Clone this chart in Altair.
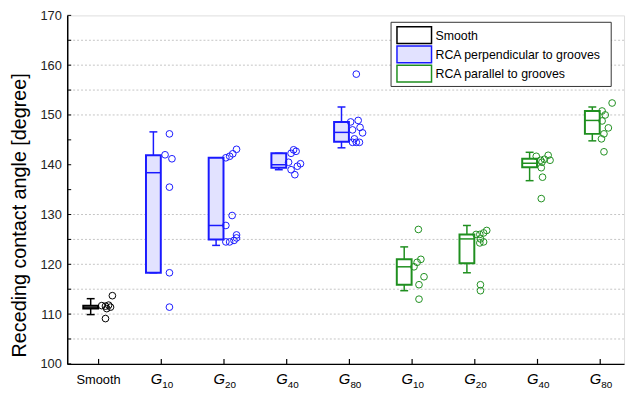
import altair as alt
import pandas as pd

# ---------------- data ----------------
groups = ["Smooth", "RCA perpendicular to grooves", "RCA parallel to grooves"]
cat_pos = [1, 2, 3, 4, 5, 6, 7, 8, 9]
cat_group = ["Smooth"] + ["RCA perpendicular to grooves"] * 4 + ["RCA parallel to grooves"] * 4
cat_main = ["Smooth", "G", "G", "G", "G", "G", "G", "G", "G"]
cat_sub = ["", "10", "20", "40", "80", "10", "20", "40", "80"]

box_q1 = [111.1, 118.3, 125.0, 139.4, 144.6, 115.9, 120.2, 139.5, 146.2]
box_med = [111.4, 138.4, 127.8, 140.0, 146.5, 119.5, 125.1, 140.3, 148.9]
box_q3 = [111.7, 141.9, 141.4, 142.3, 148.6, 121.0, 126.0, 141.2, 150.8]
whisk_lo = [109.9, 118.3, 123.8, 139.0, 143.4, 114.7, 118.3, 136.8, 144.8]
whisk_hi = [113.1, 146.6, 140.5, 142.3, 151.6, 123.5, 127.8, 142.5, 151.6]

pts_val = [
    [113.7, 111.7, 111.6, 111.8, 111.1, 111.4, 109.1],
    [146.2, 142.0, 141.2, 135.5, 118.3, 111.4],
    [141.4, 141.7, 142.2, 143.1, 129.8, 127.8, 124.5, 124.5, 124.8, 125.3, 125.9],
    [143.0, 142.7, 142.3, 140.5, 140.2, 139.7, 139.0, 138.0],
    [158.2, 148.6, 148.9, 147.0, 147.5, 146.4, 145.2, 144.5, 144.5, 144.5],
    [127.0, 121.0, 120.4, 119.5, 117.5, 115.9, 113.0],
    [126.8, 126.3, 126.0, 126.0, 125.1, 124.3, 124.5, 115.9, 114.7],
    [141.7, 140.9, 141.1, 141.9, 140.9, 140.5, 139.4, 137.5, 133.2],
    [152.4, 150.8, 150.0, 148.8, 147.4, 146.2, 145.2, 142.6],
]
# horizontal jitter of each point, as a fraction of the category spacing
pts_jit = [
    [0.22, 0.05, 0.11, 0.16, 0.13, 0.19, 0.11],
    [0.13, 0.06, 0.17, 0.13, 0.13, 0.13],
    [0.03, 0.09, 0.14, 0.20, 0.13, 0.03, 0.03, 0.09, 0.16, 0.20, 0.20],
    [0.11, 0.15, 0.07, 0.03, 0.22, 0.17, 0.07, 0.13],
    [0.11, 0.02, 0.14, 0.05, 0.17, 0.21, 0.08, 0.05, 0.11, 0.16],
    [0.10, 0.14, 0.08, 0.03, 0.19, 0.11, 0.11],
    [0.19, 0.14, 0.08, 0.02, 0.09, 0.08, 0.14, 0.09, 0.09],
    [-0.02, 0.05, 0.11, 0.17, 0.20, 0.07, 0.06, 0.08, 0.06],
    [0.19, 0.03, 0.08, 0.03, 0.13, 0.06, 0.02, 0.06],
]

ytick_vals = [100, 105, 110, 115, 120, 125, 130, 135, 140, 145, 150, 155, 160, 165, 170]
ylabel_vals = [100, 110, 120, 130, 140, 150, 160, 170]

stroke_cols = ["#000000", "#1a1aff", "#1f8f1f"]
fill_cols = ["#ffffff", "#e2e2ff", "#ffffff"]
point_cols = ["#333333", "#3a3aff", "#3a9e3a"]

# ---------------- tables ----------------
W, H = 564, 353
SP = 63.5  # px per category
box_c = -8 / SP
box_h = 7.5 / SP
cap_h = 4 / SP

boxes = pd.DataFrame({
    "k": cat_pos, "group": cat_group, "q1": box_q1, "med": box_med, "q3": box_q3,
    "wlo": whisk_lo, "whi": whisk_hi,
})
boxes["xc"] = boxes["k"] + box_c
boxes["xl"] = boxes["xc"] - box_h
boxes["xr"] = boxes["xc"] + box_h
boxes["cl"] = boxes["xc"] - cap_h
boxes["cr"] = boxes["xc"] + cap_h

rows = []
for k, g, vals, jits in zip(cat_pos, cat_group, pts_val, pts_jit):
    for v, j in zip(vals, jits):
        rows.append({"k": k, "group": g, "v": v, "x": k + j})
points = pd.DataFrame(rows)

labels = pd.DataFrame({"k": cat_pos, "main": cat_main, "sub": cat_sub})
yt = pd.DataFrame({"tv": ytick_vals})

FONT = "Liberation Sans"
xs = alt.Scale(domain=[0.5, 9.38], nice=False, zero=False)
ys = alt.Scale(domain=[100, 170], nice=False, zero=False)
col_scale = alt.Scale(domain=groups, range=point_cols)
line_scale = alt.Scale(domain=groups, range=stroke_cols)
fill_scale = alt.Scale(domain=groups, range=fill_cols)

X_AX = alt.Axis(labels=False, ticks=False, grid=False, title=None, domainColor="black", domainWidth=1.5)
Y_AX = alt.Axis(values=ylabel_vals, ticks=False, grid=False,
                labelFont=FONT, labelFontSize=13, labelColor="#222222", labelPadding=6,
                domainColor="black", domainWidth=1.5,
                title="Receding contact angle [degree]", titleFont=FONT, titleFontSize=20,
                titleFontWeight="normal", titleColor="black", titleX=-42, titleY=202,
                titleBaseline="alphabetic")

base_b = alt.Chart(boxes)

# dashed grid (Origin draws it at 105-130 and 150-165 only)
gridl = alt.Chart(yt).transform_filter(
    "(datum.tv > 100 && datum.tv <= 130) || (datum.tv >= 150 && datum.tv < 170)"
).mark_rule(color="#c4c4c4", strokeDash=[2, 2], strokeWidth=1).encode(
    y=alt.Y("tv:Q", scale=ys, axis=Y_AX)
)
yticks = alt.Chart(yt).mark_rule(color="black", strokeWidth=1).encode(
    y=alt.Y("tv:Q", scale=ys), x=alt.value(0), x2=alt.value(4)
)
xticks = alt.Chart(labels).mark_rule(color="black", strokeWidth=1.2).encode(
    x=alt.X("k:Q", scale=xs, axis=X_AX), y=alt.value(H), y2=alt.value(H - 5)
)

wl = base_b.mark_rule(strokeWidth=1.5).encode(
    x=alt.X("xc:Q", scale=xs), y=alt.Y("wlo:Q", scale=ys), y2="q1:Q",
    color=alt.Color("group:N", scale=line_scale, legend=None))
wh = base_b.mark_rule(strokeWidth=1.5).encode(
    x=alt.X("xc:Q", scale=xs), y=alt.Y("q3:Q", scale=ys), y2="whi:Q",
    color=alt.Color("group:N", scale=line_scale, legend=None))
cl = base_b.mark_rule(strokeWidth=1.5).encode(
    x=alt.X("cl:Q", scale=xs), x2="cr:Q", y=alt.Y("wlo:Q", scale=ys),
    color=alt.Color("group:N", scale=line_scale, legend=None))
ch = base_b.mark_rule(strokeWidth=1.5).encode(
    x=alt.X("cl:Q", scale=xs), x2="cr:Q", y=alt.Y("whi:Q", scale=ys),
    color=alt.Color("group:N", scale=line_scale, legend=None))

rect = base_b.mark_rect(strokeWidth=2).encode(
    x=alt.X("xl:Q", scale=xs), x2="xr:Q", y=alt.Y("q1:Q", scale=ys), y2="q3:Q",
    stroke=alt.Stroke("group:N", scale=line_scale, legend=None),
    fill=alt.Fill("group:N", scale=fill_scale, legend=None),
)
medl = base_b.mark_rule(strokeWidth=1.5).encode(
    x=alt.X("xl:Q", scale=xs), x2="xr:Q", y=alt.Y("med:Q", scale=ys),
    color=alt.Color("group:N", scale=line_scale, legend=None))

pts = alt.Chart(points).mark_point(shape="circle", filled=False, size=46, strokeWidth=1, opacity=1).encode(
    x=alt.X("x:Q", scale=xs), y=alt.Y("v:Q", scale=ys),
    color=alt.Color("group:N", scale=col_scale, legend=None))

lab_main = alt.Chart(labels).transform_filter("datum.sub == ''").mark_text(
    font=FONT, fontSize=13, color="black", baseline="alphabetic", align="center").encode(
    x=alt.X("k:Q", scale=xs), y=alt.value(H + 20), text="main:N")
lab_g = alt.Chart(labels).transform_filter("datum.sub != ''").mark_text(
    font=FONT, fontSize=15, fontStyle="italic", color="black", baseline="alphabetic",
    align="right", dx=1).encode(
    x=alt.X("k:Q", scale=xs), y=alt.value(H + 20), text="main:N")
lab_s = alt.Chart(labels).transform_filter("datum.sub != ''").mark_text(
    font=FONT, fontSize=10, color="black", baseline="alphabetic", align="left", dx=1).encode(
    x=alt.X("k:Q", scale=xs), y=alt.value(H + 24), text="sub:N")

# ---------------- legend box (drawn as guide marks) ----------------
leg_df = pd.DataFrame({"group": groups})
LX0, LX1, LY0, LY1 = 328, 551, 7, 72
leg_layers = [
    alt.Chart(leg_df).transform_filter(f"datum.group == '{groups[0]}'").mark_rect(
        fill="white", stroke="#333333", strokeWidth=1).encode(
        x=alt.value(LX0), x2=alt.value(LX1), y=alt.value(LY0), y2=alt.value(LY1))
]
for i, g in enumerate(groups):
    cy = 20 + i * 19.5
    one = alt.Chart(leg_df).transform_filter(f"datum.group == '{g}'")
    leg_layers.append(one.mark_rect(strokeWidth=1.5).encode(
        x=alt.value(LX0 + 6), x2=alt.value(LX0 + 41), y=alt.value(cy - 8.5), y2=alt.value(cy + 8.5),
        stroke=alt.Stroke("group:N", scale=line_scale, legend=None),
        fill=alt.Fill("group:N", scale=fill_scale, legend=None)))
    leg_layers.append(one.mark_text(font=FONT, fontSize=12.5, color="black", align="left",
                                    baseline="alphabetic").encode(
        x=alt.value(LX0 + 45), y=alt.value(cy + 4.5), text="group:N"))

chart = alt.layer(
    gridl, yticks, xticks, wl, wh, cl, ch, rect, medl, pts, lab_main, lab_g, lab_s, *leg_layers
).properties(
    width=W, height=H,
    autosize=alt.AutoSizeParams(type="none"),
    padding={"left": 60, "top": 5, "right": 3, "bottom": 26},
).configure_view(stroke="#333333", strokeWidth=1).configure(background="white").configure_axis(
    grid=False, ticks=False
)

chart.save("out.html", embed_options={"renderer": "svg", "actions": False})
